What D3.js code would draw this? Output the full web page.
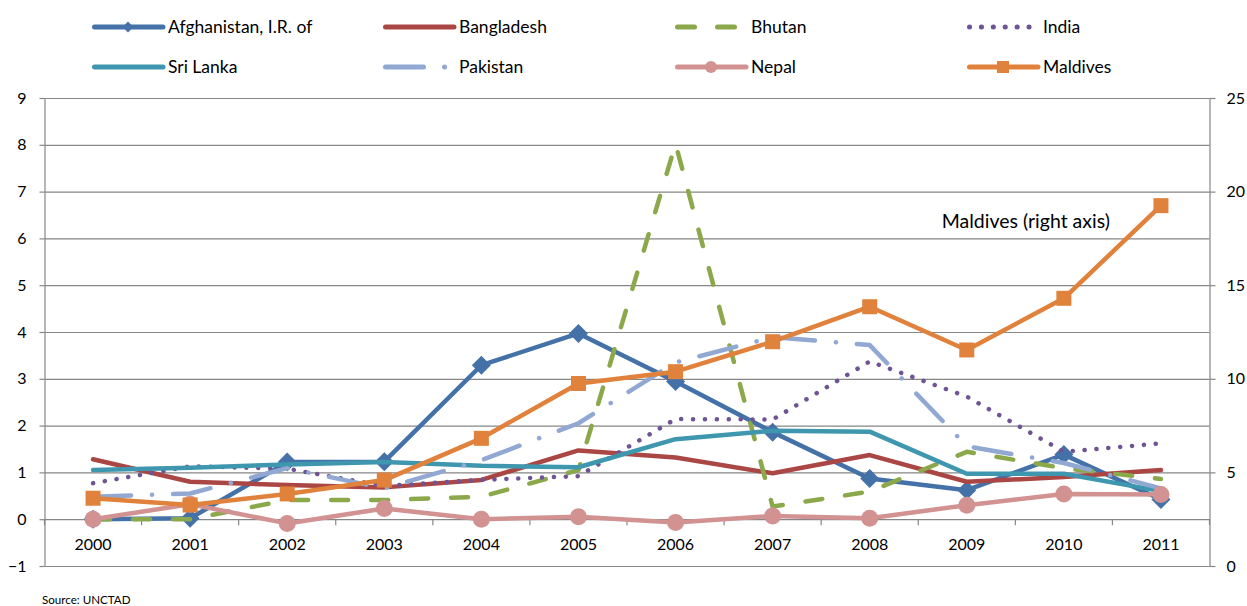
<!DOCTYPE html>
<html>
<head>
<meta charset="utf-8">
<script src="https://cdn.jsdelivr.net/npm/d3@7"></script>
<style>
  body { margin: 0; background: #fff; }
  text { font-family: Lato, 'Open Sans', sans-serif; fill: #000; }
</style>
</head>
<body>
<div id="chart"></div>
<script>
// values (left axis, Maldives on right axis)
const years = ['2000', '2001', '2002', '2003', '2004', '2005', '2006', '2007', '2008', '2009', '2010', '2011']
const afghanistan = [0, 0.02, 1.22, 1.23, 3.29, 3.97, 2.94, 1.86, 0.87, 0.62, 1.38, 0.42]
const bangladesh = [1.28, 0.8, 0.73, 0.68, 0.84, 1.47, 1.32, 0.98, 1.37, 0.8, 0.9, 1.05]
const bhutan = [0, 0, 0.41, 0.41, 0.48, 1.05, 8.02, 0.27, 0.59, 1.44, 1.09, 0.86]
const india = [0.77, 1.13, 1.08, 0.71, 0.84, 0.92, 2.14, 2.13, 3.37, 2.62, 1.44, 1.62]
const sriLanka = [1.05, 1.1, 1.17, 1.22, 1.14, 1.11, 1.71, 1.89, 1.87, 0.97, 0.97, 0.6]
const pakistan = [0.48, 0.55, 1.09, 0.66, 1.26, 2.05, 3.35, 3.89, 3.72, 1.56, 1.2, 0.66]
const nepal = [0, 0.32, -0.09, 0.23, 0, 0.05, -0.07, 0.07, 0.02, 0.3, 0.54, 0.53]
const maldives = [3.62, 3.26, 3.85, 4.59, 6.82, 9.75, 10.38, 11.98, 13.85, 11.54, 14.3, 19.25]

const leftTicks = [-1, 0, 1, 2, 3, 4, 5, 6, 7, 8, 9]
const rightTicks = [0, 5, 10, 15, 20, 25]

// series table, legend order (row by row)
const series = [
  { name: 'Afghanistan, I.R. of', values: afghanistan, color: '#4472a8', marker: 'diamond' },
  { name: 'Bangladesh', values: bangladesh, color: '#aa4643' },
  { name: 'Bhutan', values: bhutan, color: '#8ba84a', dash: '17 23' },
  { name: 'India', values: india, color: '#6e5494', dash: '0.1 11.8' },
  { name: 'Sri Lanka', values: sriLanka, color: '#3e97ae' },
  { name: 'Pakistan', values: pakistan, color: '#90a8d2', dash: '38 21 0.1 21' },
  { name: 'Nepal', values: nepal, color: '#d29292', marker: 'circle' },
  { name: 'Maldives', values: maldives, color: '#e0823b', marker: 'square', right: true }
]

const margin = { top: 98, left: 44.5, right: 37.5, bottom: 40 }
const width = 1247 - margin.left - margin.right
const height = 606 - margin.top - margin.bottom

const svg = d3.select('#chart')
  .append('svg')
  .attr('width', 1247)
  .attr('height', 606)

const g = svg.append('g')
  .attr('transform', 'translate(' + margin.left + ',' + margin.top + ')')

// scales
const xPositionScale = d3.scaleBand().domain(years).range([0, width])
const yLeft = d3.scaleLinear().domain([-1, 9]).range([height, 0])
const yRight = d3.scaleLinear().domain([0, 25]).range([height, 0])
const half = xPositionScale.bandwidth() / 2
const xMid = year => xPositionScale(year) + half

const gridColor = '#868686'

// gridlines
g.append('g')
  .attr('class', 'grid')
  .call(d3.axisLeft(yLeft).tickValues(leftTicks).tickSize(-width).tickFormat(''))
  .call(s => s.select('.domain').remove())
  .selectAll('line')
  .attr('stroke', gridColor)
  .attr('stroke-width', 1.2)

// left axis
const yAxis = g.append('g')
  .attr('class', 'axis y-axis')
  .call(d3.axisLeft(yLeft).tickValues(leftTicks).tickSize(5).tickSizeOuter(0).tickPadding(13).tickFormat(d3.format('d')))
yAxis.selectAll('path, line').attr('stroke', gridColor).attr('stroke-width', 1.2)
yAxis.selectAll('text').attr('font-size', 16).attr('fill', '#000')

// right axis
const yAxisRight = g.append('g')
  .attr('class', 'axis y-axis-right')
  .attr('transform', 'translate(' + width + ',0)')
  .call(d3.axisRight(yRight).tickValues(rightTicks).tickSize(6).tickSizeOuter(0).tickPadding(11))
yAxisRight.selectAll('path, line').attr('stroke', gridColor).attr('stroke-width', 1.2)
yAxisRight.selectAll('text').attr('font-size', 16).attr('fill', '#000')

// category labels sit under the zero line
const xAxis = g.append('g')
  .attr('class', 'axis x-axis')
  .attr('transform', 'translate(0,' + yLeft(0) + ')')
  .call(d3.axisBottom(xPositionScale).tickSize(0).tickPadding(19))
xAxis.select('.domain').remove()
xAxis.selectAll('text').attr('font-size', 16).attr('fill', '#000')

// little tick marks between categories
xAxis.selectAll('.cat-tick')
  .data(d3.range(years.length + 1))
  .enter()
  .append('line')
  .attr('class', 'cat-tick')
  .attr('x1', i => i * xPositionScale.step())
  .attr('x2', i => i * xPositionScale.step())
  .attr('y1', 0)
  .attr('y2', 6)
  .attr('stroke', gridColor)
  .attr('stroke-width', 1.2)

function drawMarker(sel, type, color, size) {
  if (type === 'diamond') {
    sel.append('path')
      .attr('d', `M0,${-size}L${size},0L0,${size}L${-size},0Z`)
      .attr('fill', color)
  } else if (type === 'circle') {
    sel.append('circle').attr('r', size).attr('fill', color)
  } else if (type === 'square') {
    sel.append('rect')
      .attr('x', -size).attr('y', -size)
      .attr('width', size * 2).attr('height', size * 2)
      .attr('fill', color)
  }
}

const markerSize = { diamond: 9.5, circle: 8.5, square: 7.5 }

// lines
series.forEach(s => {
  const yScale = s.right ? yRight : yLeft
  const points = years.map((year, i) => ({ year: year, value: s.values[i] }))
  const line = d3.line()
    .x(d => xMid(d.year))
    .y(d => yScale(d.value))

  const sg = g.append('g').attr('class', 'series')
  sg.append('path')
    .datum(points)
    .attr('d', line)
    .attr('fill', 'none')
    .attr('stroke', s.color)
    .attr('stroke-width', 4.5)
    .attr('stroke-linejoin', 'round')
    .attr('stroke-linecap', 'round')
    .attr('stroke-dasharray', s.dash || null)

  if (s.marker) {
    sg.selectAll('.mark')
      .data(points)
      .enter()
      .append('g')
      .attr('class', 'mark')
      .attr('transform', d => `translate(${xMid(d.year)},${yScale(d.value)})`)
      .each(function() {
        drawMarker(d3.select(this), s.marker, s.color, markerSize[s.marker])
      })
  }
})

// annotation for the right axis series
g.append('text')
  .text('Maldives (right axis)')
  .attr('x', xMid('2008') + 72)
  .attr('y', yRight(20) + 36)
  .attr('font-size', 19.5)

// legend, 4 columns x 2 rows
const legendCols = [92, 383, 675, 967]
const legendRows = [27, 67]
const legend = svg.append('g').attr('class', 'legend')
series.forEach((s, i) => {
  const lx = legendCols[i % 4]
  const ly = legendRows[Math.floor(i / 4)]
  const item = legend.append('g').attr('transform', `translate(${lx},${ly})`)
  item.append('line')
    .attr('x1', 2.5)
    .attr('x2', 71)
    .attr('y1', 0)
    .attr('y2', 0)
    .attr('stroke', s.color)
    .attr('stroke-width', 5)
    .attr('stroke-linecap', 'round')
    .attr('stroke-dasharray', s.dash || null)
  if (s.marker) {
    const m = item.append('g').attr('transform', 'translate(36,0)')
    drawMarker(m, s.marker, s.color, { diamond: 5.5, circle: 6, square: 6 }[s.marker])
  }
  item.append('text')
    .text(s.name)
    .attr('x', 76)
    .attr('dy', '0.35em')
    .attr('font-size', 17.5)
})

svg.append('text')
  .text('Source: UNCTAD')
  .attr('x', 42)
  .attr('y', 604)
  .attr('font-size', 11.6)
</script>
</body>
</html>
